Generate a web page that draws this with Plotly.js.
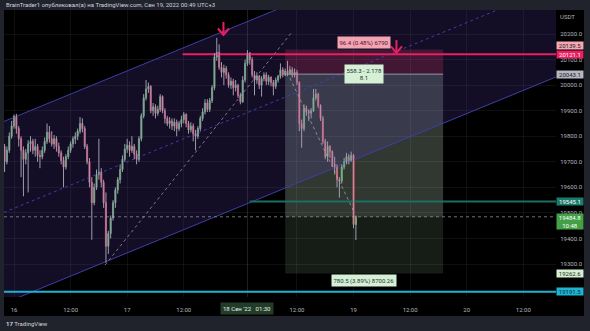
<!DOCTYPE html>
<html><head><meta charset="utf-8">
<script src="https://cdn.plot.ly/plotly-3.0.1.min.js"></script>
<style>html,body{margin:0;padding:0;background:#000;}#chart{width:590px;height:331px;}</style>
</head><body><div id="chart"></div>
<script>
// ---- Data (30-minute candles, BTC/USDT, from 2022-09-15 22:00, UTC+3) ----
const candleStart = '2022-09-15T22:00:00Z';
const candleStepMinutes = 30;
const openP = [19760,19700,19745,19800,19840,19878,19830,19790,19745,19710,
19735,19770,19780,19745,19760,19725,19720,19745,19780,19815,
19790,19770,19790,19760,19735,19705,19680,19720,19745,19770,
19790,19800,19820,19850,19830,19760,19700,19620,19540,19600,
19650,19660,19620,19540,19370,19420,19480,19540,19590,19630,
19670,19710,19750,19765,19745,19760,19730,19710,19790,19880,
19950,19985,19995,19900,19915,19890,19905,19955,19900,19870,
19850,19860,19840,19855,19830,19850,19865,19885,19850,19825,
19840,19810,19800,19830,19870,19895,19930,19905,19940,19990,
20110,20128,20070,20050,20065,20040,20000,20015,19990,20000,
19960,19935,20020,20085,20125,20100,20040,20020,20035,20000,
20025,20040,20015,20030,20010,19995,20020,20035,20060,20040,
20055,20045,20060,20040,20050,20010,19850,19830,19910,19900,
19890,19900,19950,19965,19920,19870,19780,19720,19760,19740,
19690,19680,19630,19625,19680,19700,19720,19705,19725,19455];
const highP = [19770,19760,19815,19860,19885,19888,19840,19800,19760,19750,
19785,19800,19790,19790,19770,19745,19760,19795,19850,19840,
19820,19805,19800,19775,19745,19720,19730,19760,19780,19800,
19815,19830,19875,19870,19840,19770,19715,19640,19615,19670,
19790,19675,19630,19580,19430,19490,19550,19600,19640,19690,
19725,19770,19790,19780,19800,19770,19745,19800,19890,19965,
20020,20010,20000,19930,19925,19920,19965,19960,19910,19880,
19875,19870,19870,19865,19860,19880,19895,19890,19860,19855,
19850,19825,19840,19880,19910,19945,19945,19950,20000,20125,
20185,20160,20090,20080,20075,20050,20030,20025,20020,20005,
19970,20035,20100,20137,20130,20110,20055,20050,20040,20035,
20050,20050,20040,20035,20020,20030,20040,20085,20070,20065,
20095,20075,20070,20065,20060,20015,19865,19925,19920,19905,
19910,19985,19985,19970,19925,19880,19790,19780,19765,19745,
19720,19690,19640,19690,19715,19735,19730,19740,19730,19490];
const lowP = [19660,19690,19735,19790,19830,19810,19760,19640,19565,19690,
19580,19740,19730,19720,19700,19675,19710,19735,19770,19775,
19760,19750,19740,19720,19690,19600,19670,19710,19735,19755,
19770,19785,19810,19815,19750,19690,19600,19395,19530,19590,
19630,19600,19520,19305,19340,19400,19470,19520,19575,19615,
19660,19700,19735,19720,19735,19710,19690,19700,19780,19870,
19940,19970,19890,19880,19870,19880,19895,19890,19850,19840,
19830,19825,19820,19800,19820,19835,19850,19835,19810,19815,
19780,19745,19790,19820,19860,19885,19895,19895,19930,19980,
20095,20060,20030,20000,20025,19990,19985,19960,19975,19950,
19925,19930,20010,20075,20080,20030,19960,20005,19985,19955,
20015,20000,20000,19995,19960,19985,20010,20025,20030,20035,
20035,20040,20030,20030,20000,19820,19755,19820,19880,19860,
19870,19895,19940,19910,19860,19770,19710,19700,19715,19680,
19650,19600,19560,19615,19670,19690,19690,19700,19440,19394];
const closeP = [19700,19745,19800,19840,19878,19830,19790,19745,19710,19735,
19770,19780,19745,19760,19725,19720,19745,19780,19815,19790,
19770,19790,19760,19735,19705,19680,19720,19745,19770,19790,
19800,19820,19850,19830,19760,19700,19620,19540,19600,19650,
19660,19620,19540,19370,19420,19480,19540,19590,19630,19670,
19710,19750,19765,19745,19760,19730,19710,19790,19880,19950,
19985,19995,19900,19915,19890,19905,19955,19900,19870,19850,
19860,19840,19855,19830,19850,19865,19885,19850,19825,19840,
19810,19800,19830,19870,19895,19930,19905,19940,19990,20110,
20128,20070,20050,20065,20040,20000,20015,19990,20000,19960,
19935,20020,20085,20125,20100,20040,20020,20035,20000,20025,
20040,20015,20030,20010,19995,20020,20035,20060,20040,20055,
20045,20060,20040,20050,20010,19850,19830,19910,19900,19890,
19900,19950,19965,19920,19870,19780,19720,19760,19740,19690,
19680,19630,19625,19680,19700,19720,19705,19725,19455,19484.8];

// price levels
const stopLevel = 20139.5;
const pinkLevel = 20121.1;
const entryLevel = 20043.1;
const tealLevel = 19545.1;
const lastPrice = 19484.8;
const targetLevel = 19262.6;
const cyanLevel = 19191.5;

// drawing anchors (time, price)
const xRange = ['2022-09-15 21:52:40', '2022-09-20 18:56:00'];
const channelX = ['2022-09-15 21:52:40', '2022-09-20 18:56:00'];
const channelUpperY = [19858, 20744];
const channelLowerY = [19146, 20032];
const channelMidY = [19502, 20388];
const dotted1X = ['2022-09-16 19:18', '2022-09-18 10:57'];
const dotted1Y = [19296, 20208];
const dotted2X = ['2022-09-18 10:31', '2022-09-19 00:06'];
const dotted2Y = [20028, 19504];
const positionX = ['2022-09-18 09:30', '2022-09-19 19:00'];
const positionMid = '2022-09-19 02:15';
const pinkStart = '2022-09-17 11:45';
const tealStart = '2022-09-18 02:00';
const crosshairTime = '2022-09-18 01:30';
const arrowTipTimes = ['2022-09-17 20:25', '2022-09-19 09:06'];
const arrowTipPrices = [20196, 20126];

const tickVals = ['2022-09-16','2022-09-16 12:00','2022-09-17','2022-09-17 12:00','2022-09-18 12:00','2022-09-19','2022-09-19 12:00','2022-09-20','2022-09-20 12:00'];
const tickText = ['16','12:00','17','12:00','12:00','19','12:00','20','12:00'];
const priceTicks = [19300,19400,19500,19600,19700,19800,19900,20000,20100,20200];

// ---- build ----
const t0 = Date.parse(candleStart);
const iso = ms => new Date(ms).toISOString().slice(0,19).replace('T',' ');
const times = openP.map((_, i) => iso(t0 + i*candleStepMinutes*60000));
const wickX = [], wickY = [];
times.forEach((t, i) => { wickX.push(t, t, null); wickY.push(lowP[i], highP[i], null); });
const bodyHigh = openP.map((o, i) => Math.max(o, closeP[i]));
const bodyLow = openP.map((o, i) => Math.min(o, closeP[i]));

const line = (x, y, color, width, dash) => ({type:'scatter', mode:'lines', x, y, hoverinfo:'skip',
  line:{color, width, dash: dash || 'solid'}});

// arrow glyph size in screen pixels, converted with the axis scale (px per hour, price per px)
const msPerPx = 3600000/4.716, pricePerPx = 3.913;
const arrowX = [], arrowY = [];
arrowTipTimes.forEach((t, k) => {
  const tm = Date.parse(t.replace(' ','T') + 'Z'), p = arrowTipPrices[k];
  arrowX.push(iso(tm), iso(tm), null, iso(tm - 5.5*msPerPx), iso(tm), iso(tm + 5.5*msPerPx), null);
  arrowY.push(p + 1, p + 13*pricePerPx, null, p + 6.5*pricePerPx, p + 0.5, p + 6.5*pricePerPx, null);
});

const chanColor = '#3b40a6';
const traces = [
  {type:'scatter', mode:'lines', x:[channelX[0], channelX[1], channelX[1], channelX[0]],
   y:[channelUpperY[0], channelUpperY[1], channelLowerY[1], channelLowerY[0]],
   fill:'toself', fillcolor:'rgba(100,70,200,0.19)', line:{width:0}, hoverinfo:'skip'},
  line(channelX, channelUpperY, chanColor, 1),
  line(channelX, channelLowerY, chanColor, 1),
  line(channelX, channelMidY, chanColor, 1, '3px,3px'),
  line(dotted1X, dotted1Y, 'rgba(190,190,205,0.6)', 1, 'dot'),
  line(dotted2X, dotted2Y, 'rgba(190,190,205,0.6)', 1, 'dot'),
  line(xRange, [lastPrice, lastPrice], 'rgba(160,160,170,0.7)', 1, 'dot'),
  line(positionX, [entryLevel, entryLevel], 'rgba(170,172,185,0.8)', 1),
  line([pinkStart, xRange[1]], [pinkLevel, pinkLevel], '#e91e63', 2),
  line([tealStart, xRange[1]], [tealLevel, tealLevel], '#1b6f62', 2),
  line(xRange, [cyanLevel, cyanLevel], '#1fb3d1', 2),
  {type:'scatter', mode:'lines', x:wickX, y:wickY, line:{color:'#9e9cae', width:1}, hoverinfo:'skip', connectgaps:false},
  {type:'candlestick', x:times, open:openP, high:bodyHigh, low:bodyLow, close:closeP,
   increasing:{line:{color:'#4caf50', width:1}, fillcolor:'#4caf50'},
   decreasing:{line:{color:'#e04456', width:1}, fillcolor:'#e04456'},
   whiskerwidth:0, hoverinfo:'skip'},
  {type:'scatter', mode:'lines', x:arrowX, y:arrowY, line:{color:'#e91e63', width:2}, hoverinfo:'skip', connectgaps:false}
];

const px = v => (v - 4)/552, py = v => (297 - v)/287;
const rectP = (x0,x1,y0,y1,c) => ({type:'rect', xref:'paper', yref:'paper', x0:px(x0), x1:px(x1), y0:py(y0), y1:py(y1), fillcolor:c, line:{width:0}, layer:'below'});
const gray = '#20222c';
const shapes = [
  rectP(0,590,0,10,gray), rectP(0,590,316,331,gray), rectP(0,4,0,331,gray), rectP(584,590,0,331,gray),
  {type:'rect', xref:'x', yref:'y', x0:positionX[0], x1:positionX[1], y0:entryLevel, y1:stopLevel, fillcolor:'rgba(242,54,69,0.24)', line:{width:0}, layer:'below'},
  {type:'rect', xref:'x', yref:'y', x0:positionX[0], x1:positionX[1], y0:targetLevel, y1:entryLevel, fillcolor:'rgba(110,140,110,0.2)', line:{width:0}, layer:'below'},
  {type:'rect', xref:'x', yref:'y', x0:positionX[0], x1:positionX[1], y0:lastPrice, y1:entryLevel, fillcolor:'rgba(160,170,160,0.2)', line:{width:0}, layer:'below'},
  {type:'line', xref:'x', yref:'paper', x0:crosshairTime, x1:crosshairTime, y0:0, y1:1, line:{color:'rgba(255,255,255,0.13)', width:1}, layer:'below'}
];

const axisBox = (price, text, bg, fg, shift, anchor) => ({xref:'paper', yref:'y', x:1, y:price, xanchor:'left', yanchor: anchor || 'middle',
  yshift: shift || 0, text, showarrow:false, bgcolor:bg, width:26, borderpad:0, align:'center', font:{size:6, color:fg}});
const posLabel = (price, text, anchor) => ({xref:'x', yref:'y', x:positionMid, y:price, yanchor:anchor, text, showarrow:false,
  bgcolor: anchor === 'bottom' ? '#f4a3b2' : '#d5f0d6', borderpad:1.5, font:{size:6, color: anchor === 'bottom' ? '#4a1a28' : '#24352a'}});

const annotations = [
  {xref:'paper', yref:'paper', x:0, y:py(5.3), xanchor:'left', yanchor:'middle', showarrow:false,
   text:'BrainTrader1 опубликовал(а) на TradingView.com, Сен 19, 2022 00:49 UTC+3', font:{size:6, color:'#d1d4dc'}},
  {xref:'paper', yref:'paper', x:px(558), y:py(16), xanchor:'left', yanchor:'middle', showarrow:false, text:'USDT', font:{size:6, color:'#b2b5be'}},
  {xref:'paper', yref:'paper', x:px(4), y:py(323.5), xanchor:'left', yanchor:'middle', showarrow:false,
   text:'<b>17</b> TradingView', font:{size:6, color:'#d1d4dc'}},
  {xref:'x', yref:'paper', x:crosshairTime, y:py(308.5), yanchor:'middle', showarrow:false, text:"18 Сен '22   01:30",
   bgcolor:'#213d27', borderpad:2, font:{size:6, color:'#e8eaf0'}},
  axisBox(stopLevel, '20139.5', '#f5a7b5', '#2a1a20', 4),
  axisBox(pinkLevel, '20121.1', '#e91e63', '#ffffff', 0),
  axisBox(entryLevel, '20043.1', '#b4b6c0', '#1e2028', 0),
  axisBox(tealLevel, '19545.1', '#1b7a69', '#ffffff', 0),
  axisBox(lastPrice, '19484.8<br>10:48', '#43a047', '#ffffff', 4, 'top'),
  axisBox(targetLevel, '19262.6', '#d6efd4', '#1e2a20', 0),
  axisBox(cyanLevel, '19191.5', '#1fb3d1', '#0d2a33', 0),
  posLabel(stopLevel, '96.4 (0.48%) 6790', 'bottom'),
  posLabel(entryLevel, '558.3 - 2.178<br>8.1', 'middle'),
  posLabel(targetLevel, '780.5 (3.89%) 8700.26', 'top')
];

const layout = {
  width:590, height:331, margin:{l:4, r:34, t:10, b:34},
  paper_bgcolor:'#000000', plot_bgcolor:'#000000', showlegend:false,
  font:{family:'Roboto, "Noto Sans", "DejaVu Sans", sans-serif', size:6, color:'#b2b5be'},
  xaxis:{type:'date', range:xRange, tickvals:tickVals, ticktext:tickText, showgrid:true, gridcolor:'rgba(255,255,255,0.06)',
    zeroline:false, showline:false, ticks:'outside', ticklen:7, tickcolor:'rgba(0,0,0,0)', tickfont:{size:6, color:'#b2b5be'},
    rangeslider:{visible:false}, fixedrange:true},
  yaxis:{side:'right', range:[19171.1, 20293.9], tickmode:'array', tickvals:priceTicks, tickformat:'.1f', showgrid:true, gridcolor:'rgba(255,255,255,0.06)',
    zeroline:false, showline:false, ticks:'outside', ticklen:2, tickcolor:'rgba(0,0,0,0)', tickfont:{size:6, color:'#b2b5be'}, fixedrange:true},
  shapes, annotations
};
Plotly.newPlot('chart', traces, layout, {staticPlot:true, displayModeBar:false});
</script></body></html>
